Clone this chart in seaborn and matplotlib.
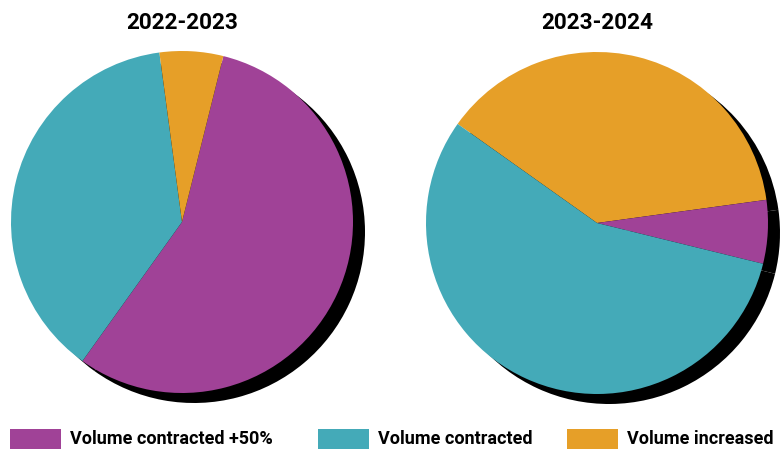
import matplotlib
matplotlib.use("Agg")
import matplotlib.pyplot as plt
from matplotlib import font_manager
from matplotlib.patches import Rectangle
import seaborn as sns

sns.set_theme(style="white")

names = {f.name for f in font_manager.fontManager.ttflist}
narrow = "Liberation Sans Narrow" if "Liberation Sans Narrow" in names else "Roboto"
plt.rcParams["font.family"] = ["Roboto", "DejaVu Sans"]

# Share of volume by category in each season
categories = ["Volume contracted +50%", "Volume contracted", "Volume increased"]
seasons = ["2022-2023", "2023-2024"]
shares_2022 = [56, 38, 6]      # contracted +50%, contracted, increased
shares_2023 = [6, 56, 38]

palette = sns.color_palette(["#A04297", "#44AAB8", "#E69F28"])
cat_color = dict(zip(categories, palette))

W, H = 784, 450
fig = plt.figure(figsize=(W / 100, H / 100), dpi=100)

R = 171  # pie radius in pixels


def pie_axes(cx, cy):
    return fig.add_axes([(cx - R) / W, 1 - (cy + R) / H, 2 * R / W, 2 * R / H])


def draw_pie(ax, values, labels, start):
    cols = [cat_color[l] for l in labels]
    sx, sy = 12 / R, -10 / R
    ax.pie(values, colors=["black"] * len(values), startangle=start,
           counterclock=False, center=(sx, sy), radius=1,
           wedgeprops=dict(linewidth=0))
    ax.pie(values, colors=cols, startangle=start, counterclock=False,
           radius=1, wedgeprops=dict(linewidth=0))
    for p in ax.patches:
        p.set_clip_on(False)
    ax.set_xlim(-1, 1)
    ax.set_ylim(-1, 1)
    ax.set_aspect("equal")
    ax.set_axis_off()


ax1 = pie_axes(182, 222)
draw_pie(ax1, shares_2022, categories, 76)

order_2023 = [categories[2], categories[0], categories[1]]
vals_2023 = [shares_2023[2], shares_2023[0], shares_2023[1]]
ax2 = pie_axes(597, 223)
draw_pie(ax2, vals_2023, order_2023, 144.6)

# Titles
for cx, title in zip([182, 597], seasons):
    fig.text(cx / W, 1 - 23 / H, title, ha="center", va="center",
             fontsize=16.2, fontweight="bold", color="black")

# Legend
legend_x = [10, 318, 567]
for x0, cat in zip(legend_x, categories):
    fig.patches.append(Rectangle((x0 / W, 1 - 449 / H), 51 / W, 20 / H,
                                 transform=fig.transFigure,
                                 facecolor=cat_color[cat], edgecolor="none"))
    fig.text((x0 + 60) / W, 1 - 439 / H, cat, ha="left", va="center",
             fontsize=13, fontweight="bold", color="black",
             family=[narrow, "DejaVu Sans"])

fig.savefig("out.png", dpi=100)
